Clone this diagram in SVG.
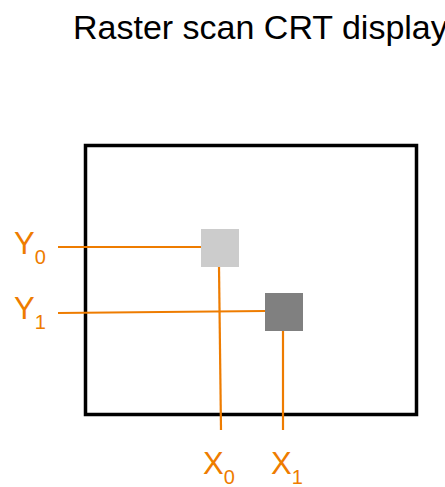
<svg xmlns="http://www.w3.org/2000/svg" width="445" height="487" viewBox="0 0 445 487">
<style>
.lbl{font-family:"Liberation Sans",Arial,sans-serif;fill:#EE7C00;font-size:31px}
.sub{font-size:20px}
.conn{stroke:#EE7C00;stroke-width:2.2;fill:none}
</style>
<rect width="445" height="487" fill="#fff"/>
<text id="title" x="73" y="39" font-family="Liberation Sans, Arial, sans-serif" font-size="34" fill="#000">Raster scan CRT display</text>
<g id="screen"><rect x="85.5" y="145.5" width="331" height="269" fill="none" stroke="#000" stroke-width="3.5"/></g>
<g id="connectors">
<line class="conn" x1="58" y1="247" x2="201" y2="247"/>
<line class="conn" x1="58" y1="313" x2="265" y2="311"/>
<line class="conn" x1="219" y1="267" x2="221" y2="430"/>
<line class="conn" x1="283" y1="331" x2="283" y2="430"/>
</g>
<g id="pixel0"><rect x="201" y="229" width="38" height="38" fill="#cccccc"/></g>
<g id="pixel1"><rect x="265" y="293" width="38" height="38" fill="#808080"/></g>
<g id="y0"><text class="lbl" x="14" y="254">Y<tspan class="sub" dy="10">0</tspan></text></g>
<g id="y1"><text class="lbl" x="14" y="319">Y<tspan class="sub" dy="10">1</tspan></text></g>
<g id="x0"><text class="lbl" x="203" y="474">X<tspan class="sub" dy="10">0</tspan></text></g>
<g id="x1"><text class="lbl" x="271" y="474">X<tspan class="sub" dy="10">1</tspan></text></g>
</svg>
